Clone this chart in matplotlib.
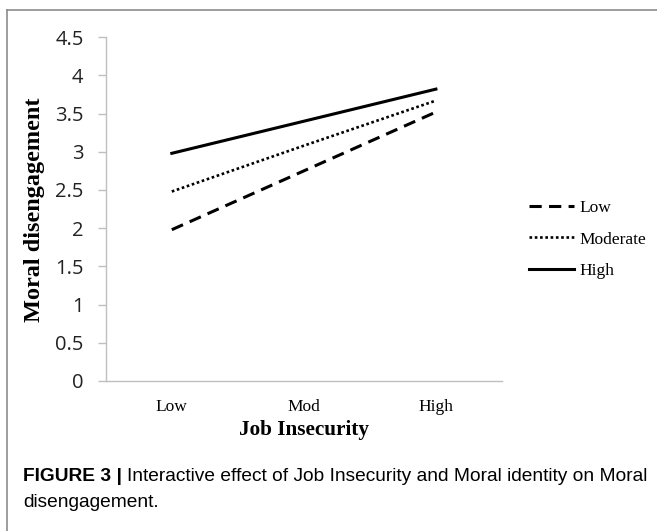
import matplotlib
matplotlib.use('Agg')
import matplotlib.pyplot as plt
from matplotlib.lines import Line2D

# 数据
categories = ['Low', 'Mod', 'High']
series_names = ['Low', 'Moderate', 'High']
low_values = [1.98, 2.75, 3.52]
moderate_values = [2.48, 3.08, 3.67]
high_values = [2.98, 3.40, 3.82]
y_ticks = [0, 0.5, 1, 1.5, 2, 2.5, 3, 3.5, 4, 4.5]

fig = plt.figure(figsize=(6.57, 5.31), dpi=100)
ax = fig.add_axes([0.161, 0.2825, 0.603, 0.6475])

x = range(len(categories))
ax.plot(x, low_values, color='black', lw=2.2, linestyle=(0, (4.0, 2.4)), label=series_names[0])
ax.plot(x, moderate_values, color='black', lw=1.9, linestyle=(0, (1.0, 1.0)), label=series_names[1])
ax.plot(x, high_values, color='black', lw=2.2, linestyle='-', label=series_names[2])

ax.set_xlim(-0.5, 2.5)
ax.set_ylim(0, 4.5)
ax.set_yticks(y_ticks)
ax.set_yticklabels(['%g' % v for v in y_ticks], fontfamily='Open Sans', fontsize=14.5, color='#222222')
ax.set_xticks(list(x))
ax.set_xticklabels(categories, fontfamily='Liberation Serif', fontsize=12.5)
ax.tick_params(axis='y', length=6, width=1, color='#bfbfbf', pad=10)
ax.tick_params(axis='x', length=0, pad=13)
for s in ['top', 'right']:
    ax.spines[s].set_visible(False)
for s in ['left', 'bottom']:
    ax.spines[s].set_color('#bfbfbf')
    ax.spines[s].set_linewidth(1)

fig.text(0.053, 0.605, 'Moral disengagement', rotation=90, ha='center', va='center',
         fontfamily='Liberation Serif', fontweight='bold', fontsize=17.5)
fig.text(0.463, 0.19, 'Job Insecurity', ha='center', va='center',
         fontfamily='Liberation Serif', fontweight='bold', fontsize=15.3)

leg = ax.legend(loc='center left', bbox_to_anchor=(0.805, 0.549), bbox_transform=fig.transFigure,
                frameon=False, prop={'family': 'Liberation Serif', 'size': 12.5},
                handlelength=2.6, handletextpad=0.3, labelspacing=0.87,
                borderpad=0, borderaxespad=0)

# 外框
fig.add_artist(Line2D([0.0107, 1.0], [0.981, 0.981], transform=fig.transFigure, color='#8c8c8c', lw=1.2))
fig.add_artist(Line2D([0.0107, 0.0107], [0.0, 0.981], transform=fig.transFigure, color='#8c8c8c', lw=1.2))

# 图注
fig.canvas.draw()
renderer = fig.canvas.get_renderer()
t1 = fig.text(0.035, 0.1017, 'FIGURE 3 | ', fontfamily='Liberation Sans', fontweight='bold',
              fontsize=13.8, va='center')
bb = t1.get_window_extent(renderer=renderer).transformed(fig.transFigure.inverted())
fig.text(bb.x1, 0.1017, 'Interactive effect of Job Insecurity and Moral identity on Moral',
         fontfamily='Liberation Sans', fontsize=13.8, va='center')
fig.text(0.035, 0.0546, 'disengagement.', fontfamily='Liberation Sans', fontsize=13.8, va='center')

fig.savefig('out.png', dpi=100)
